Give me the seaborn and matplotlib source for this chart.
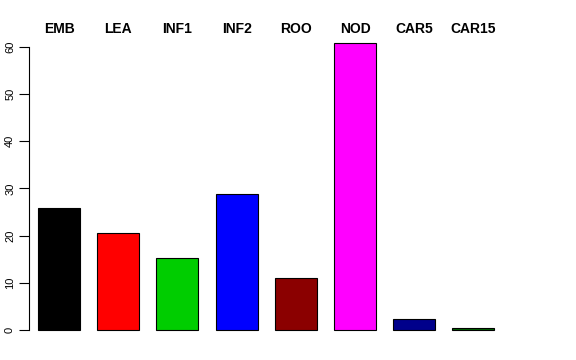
import pandas as pd
import matplotlib
matplotlib.use("Agg")
import matplotlib.pyplot as plt
import seaborn as sns

# data
categories = ['EMB', 'LEA', 'INF1', 'INF2', 'ROO', 'NOD', 'CAR5', 'CAR15']
values = [25.9, 20.6, 15.3, 28.8, 11.0, 60.8, 2.4, 0.35]
colors = ['#000000', '#FF0000', '#00CD00', '#0000FF',
          '#8B0000', '#FF00FF', '#00008B', '#006400']

sns.set_style('white')
plt.rcParams['font.family'] = ['Liberation Sans', 'DejaVu Sans']
plt.rcParams['text.color'] = 'black'
plt.rcParams['xtick.color'] = 'black'
plt.rcParams['ytick.color'] = 'black'

df = pd.DataFrame({'tissue': categories, 'value': values})

fig = plt.figure(figsize=(5.76, 3.6), dpi=100)
# axes placed in pixel terms: left 29, right 546, top 40, bottom 340
ax = fig.add_axes([29 / 576, 20 / 360, 517 / 576, 300 / 360])

sns.barplot(data=df, x='tissue', y='value', hue='tissue', palette=colors,
            order=categories, hue_order=categories, width=0.71,
            saturation=1, edgecolor='black', linewidth=0.8,
            legend=False, ax=ax)

ax.set_xlim(-0.507, 8.226)
ax.set_ylim(-2.12, 61.48)
ax.set_xlabel('')
ax.set_ylabel('')

for s in ['top', 'right', 'bottom']:
    ax.spines[s].set_visible(False)
ax.spines['left'].set_bounds(0, 60)
ax.spines['left'].set_color('black')
ax.spines['left'].set_linewidth(0.8)

ax.set_yticks([0, 10, 20, 30, 40, 50, 60])
ax.tick_params(axis='y', left=True, length=7, width=0.8, color='black',
               labelcolor='black', labelsize=8, pad=3)
for lbl in ax.get_yticklabels():
    lbl.set_rotation(90)
    lbl.set_va('center')

# category names on top, bold
ax.xaxis.tick_top()
ax.tick_params(axis='x', top=False, bottom=False, length=0, pad=3,
               labelsize=10, labelcolor='black')
for lbl in ax.get_xticklabels():
    lbl.set_fontweight('bold')

ax.grid(False)
fig.savefig('out.png', dpi=100)
